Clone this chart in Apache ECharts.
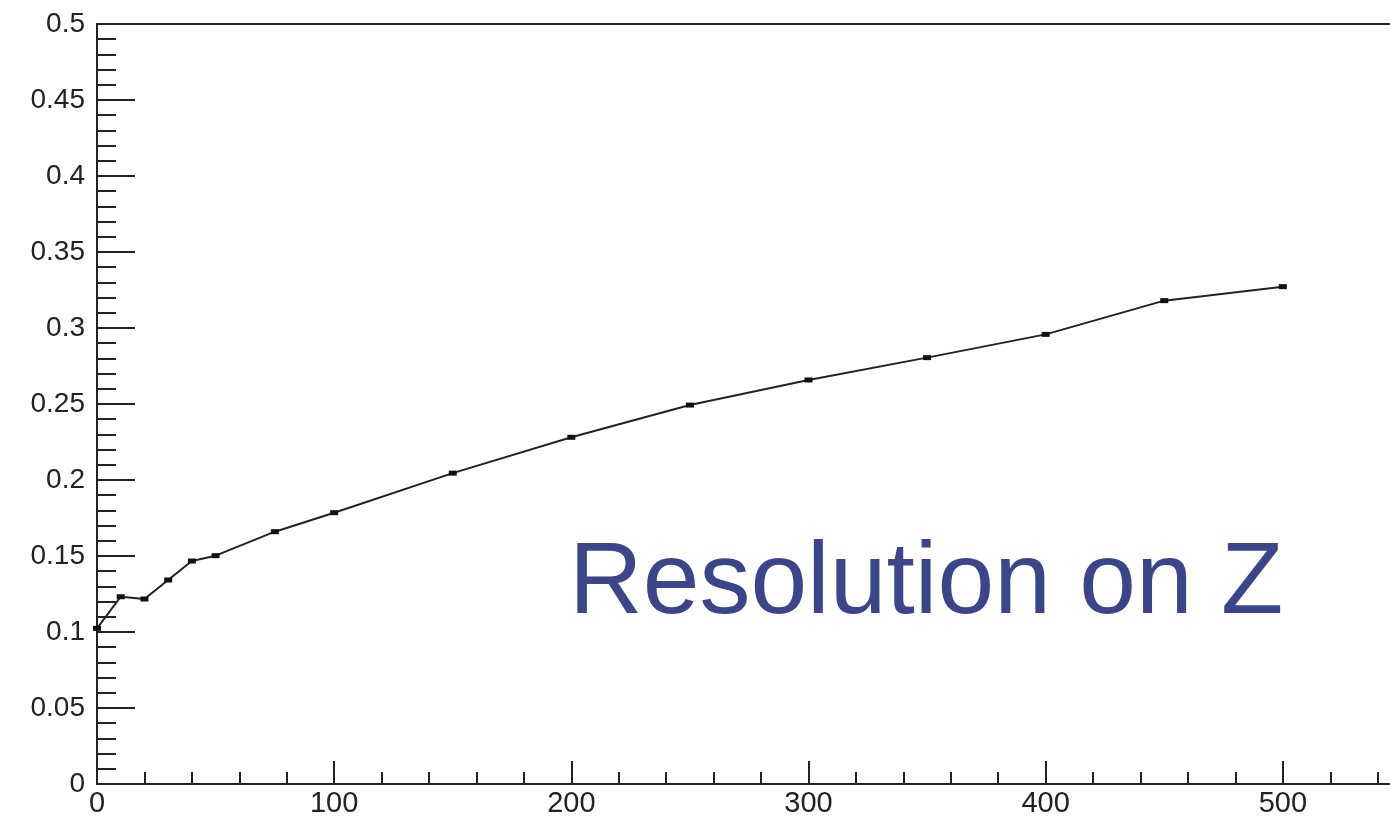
<!DOCTYPE html>
<html>
<head>
<meta charset="utf-8">
<title>Resolution on Z</title>
<script src="https://cdn.jsdelivr.net/npm/echarts@6/dist/echarts.min.js"></script>
<style>
  html, body { margin: 0; padding: 0; background: #fff; }
  #chart { width: 1390px; height: 822px; }
</style>
</head>
<body>
<div id="chart"></div>
<script>
// Beam energy points and the measured Z resolution at each one
const energy = [0, 10, 20, 30, 40, 50, 75, 100, 150, 200, 250, 300, 350, 400, 450, 500];
const resolution = [0.1024, 0.1232, 0.1217, 0.1342, 0.1467, 0.1502, 0.166, 0.1785,
                    0.2045, 0.2281, 0.2493, 0.2658, 0.2805, 0.2958, 0.318, 0.3272];
const xTickLabels = ['0', '100', '200', '300', '400', '500'];
const yTickLabels = ['0', '0.05', '0.1', '0.15', '0.2', '0.25', '0.3', '0.35', '0.4', '0.45', '0.5'];
const annotation = 'Resolution on Z';

const FONT = '"Liberation Sans", Arial, Helvetica, sans-serif';
const INK = '#222222';

const chart = echarts.init(document.getElementById('chart'), null, { renderer: 'canvas' });

// The frame runs past the right edge of the page, so only its left,
// top and bottom sides are visible.
chart.setOption({
  animation: false,
  backgroundColor: '#ffffff',
  grid: {
    left: 97, top: 24, bottom: 38, right: -130,
    outerBoundsMode: 'none',
    containLabel: false,
    show: true, borderColor: INK, borderWidth: 2, backgroundColor: 'transparent'
  },
  xAxis: {
    type: 'value',
    min: 0, max: 600, interval: 100,
    axisLine: { show: true, lineStyle: { color: INK, width: 2 } },
    axisTick: { show: true, inside: true, length: 23, lineStyle: { color: INK, width: 2 } },
    minorTick: { show: true, splitNumber: 5, length: 12, lineStyle: { color: INK, width: 2 } },
    splitLine: { show: false },
    axisLabel: {
      color: INK, fontFamily: FONT, fontSize: 29, margin: 5,
      formatter: v => {
        const s = String(Math.round(v));
        return xTickLabels.indexOf(s) >= 0 ? s : '';
      }
    }
  },
  yAxis: {
    type: 'value',
    min: 0, max: 0.5, interval: 0.05,
    axisLine: { show: true, lineStyle: { color: INK, width: 2 } },
    axisTick: { show: true, inside: true, length: 38, lineStyle: { color: INK, width: 2 } },
    minorTick: { show: true, splitNumber: 5, length: 19, lineStyle: { color: INK, width: 2 } },
    splitLine: { show: false },
    axisLabel: {
      color: INK, fontFamily: FONT, fontSize: 28, margin: 12,
      formatter: v => yTickLabels[Math.round(v / 0.05)] || ''
    }
  },
  series: [{
    type: 'line',
    data: energy.map((e, i) => [e, resolution[i]]),
    symbol: 'rect',
    symbolSize: [8, 5],
    showSymbol: true,
    itemStyle: { color: '#111' },
    lineStyle: { color: '#222', width: 2 },
    z: 3
  }],
  graphic: [{
    type: 'text',
    left: 569,
    top: 534,
    style: {
      text: annotation,
      fill: '#3b4589',
      fontFamily: FONT,
      fontSize: 102
    }
  }]
});
</script>
</body>
</html>
